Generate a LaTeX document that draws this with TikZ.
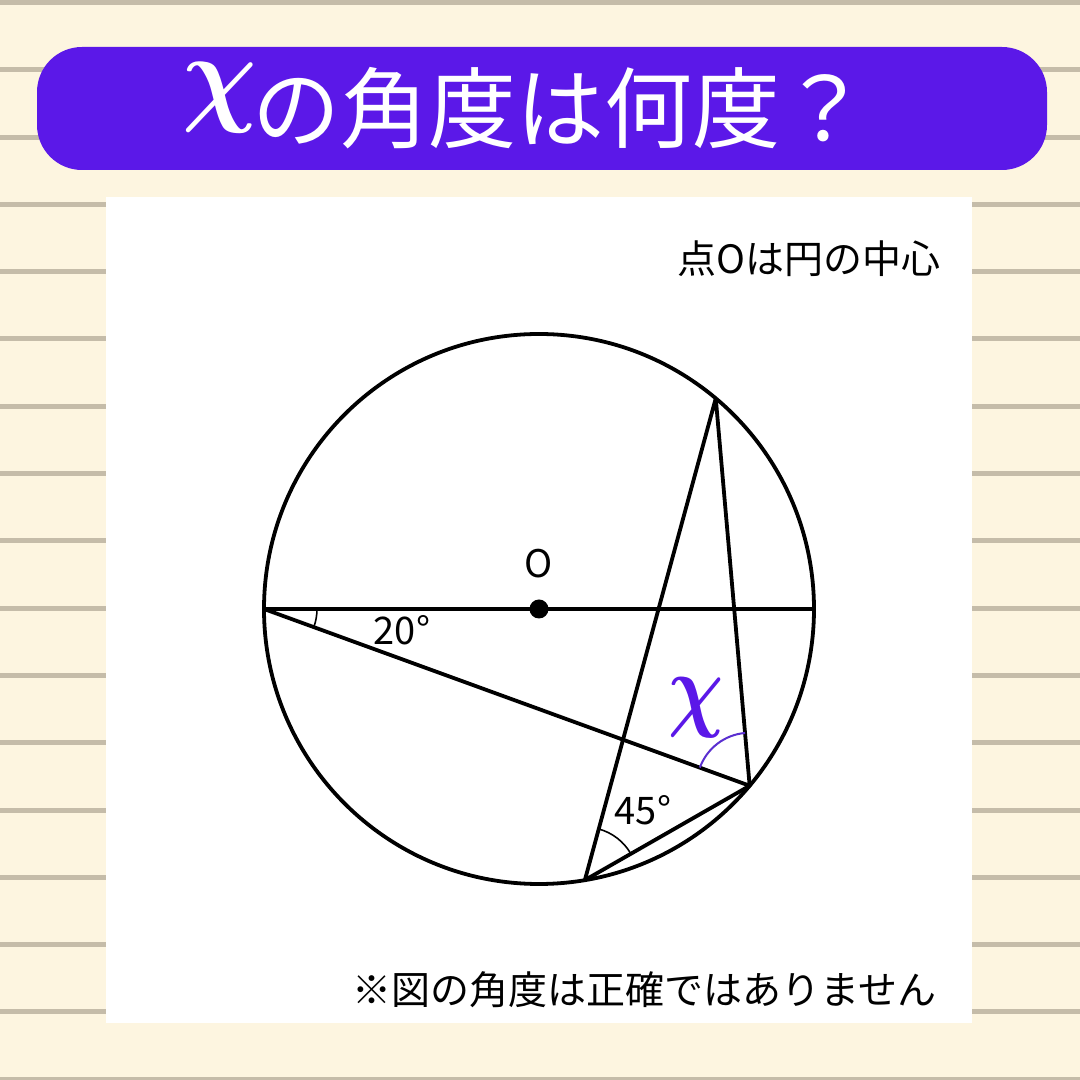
\documentclass[tikz,border=0pt]{standalone}
\usepackage{fontspec}
\usepackage{bm}
\setmainfont{Noto Sans CJK JP}
\usetikzlibrary{angles,calc}
\definecolor{bgc}{HTML}{FDF5E0}
\definecolor{rulec}{HTML}{C5BCA9}
\definecolor{ban}{HTML}{5B18E8}
\definecolor{arcc}{HTML}{5A2FD0}
\begin{document}
\begin{tikzpicture}[x=1pt,y=1pt,
  geo/.style={line width=3.8pt, black, line cap=round, line join=round},
  angarc/.style={draw, line width=1.6pt, angle radius=53pt},
  lbl/.style={inner sep=0pt, font=\fontsize{38}{44}\selectfont},
  note/.style={inner sep=0pt, font=\fontsize{39}{44}\selectfont}]
\fill[bgc] (0,0) rectangle (1080,1080);
\useasboundingbox (0,0) rectangle (1080,1080);
\foreach \k in {0,...,16}
  \fill[rulec] (0,{1077.5-67.3*\k-2.5}) rectangle (1080,{1077.5-67.3*\k+2.5});
\fill[ban, rounded corners=45pt] (37,910) rectangle (1047,1033);
\fill[white] (106,57) rectangle (972,883);
% title
\node[text=white, inner sep=0pt, xscale=10.4, yscale=11] (tx) at (219.5,982.5) {$\bm{\chi}$};
\node[text=white, inner sep=0pt, anchor=base west, font=\fontsize{88}{100}\selectfont] (title) at (252,938) {の角度は何度？};
% notes
\node[note, anchor=base east] (n1) at (941,806) {点Oは円の中心};
\node[note, anchor=base east] (n2) at (937,75) {※図の角度は正確ではありません};
% geometry
\coordinate (O) at (539,471);
\coordinate (A) at ($(O)+(180:275)$);
\coordinate (B) at ($(O)+(0:275)$);
\coordinate (P) at ($(O)+(50:275)$);
\coordinate (R) at ($(O)+(-40:275)$);
\coordinate (Q) at ($(O)+(-80.4:275)$);
\draw[geo] (O) circle (275);
\draw[geo] (A) -- (B);
\draw[geo] (A) -- (R);
\draw[geo] (Q) -- (P) -- (R) -- cycle;
\fill (O) circle (9.5);
\pic[angarc] {angle=R--A--B};
\pic[angarc] {angle=R--Q--P};
\pic[angarc, arcc, line width=2pt] {angle=P--R--A};
\node[lbl, anchor=base] (lo) at (539,502) {O};
\node[lbl, anchor=base] (l20) at (402,435) {20°};
\node[lbl, anchor=base] (l45) at (643,255) {45°};
\node[text=ban, inner sep=0pt, xscale=7.7, yscale=9.4] (lx) at (696,372.5) {$\bm{\chi}$};
\end{tikzpicture}
\end{document}
